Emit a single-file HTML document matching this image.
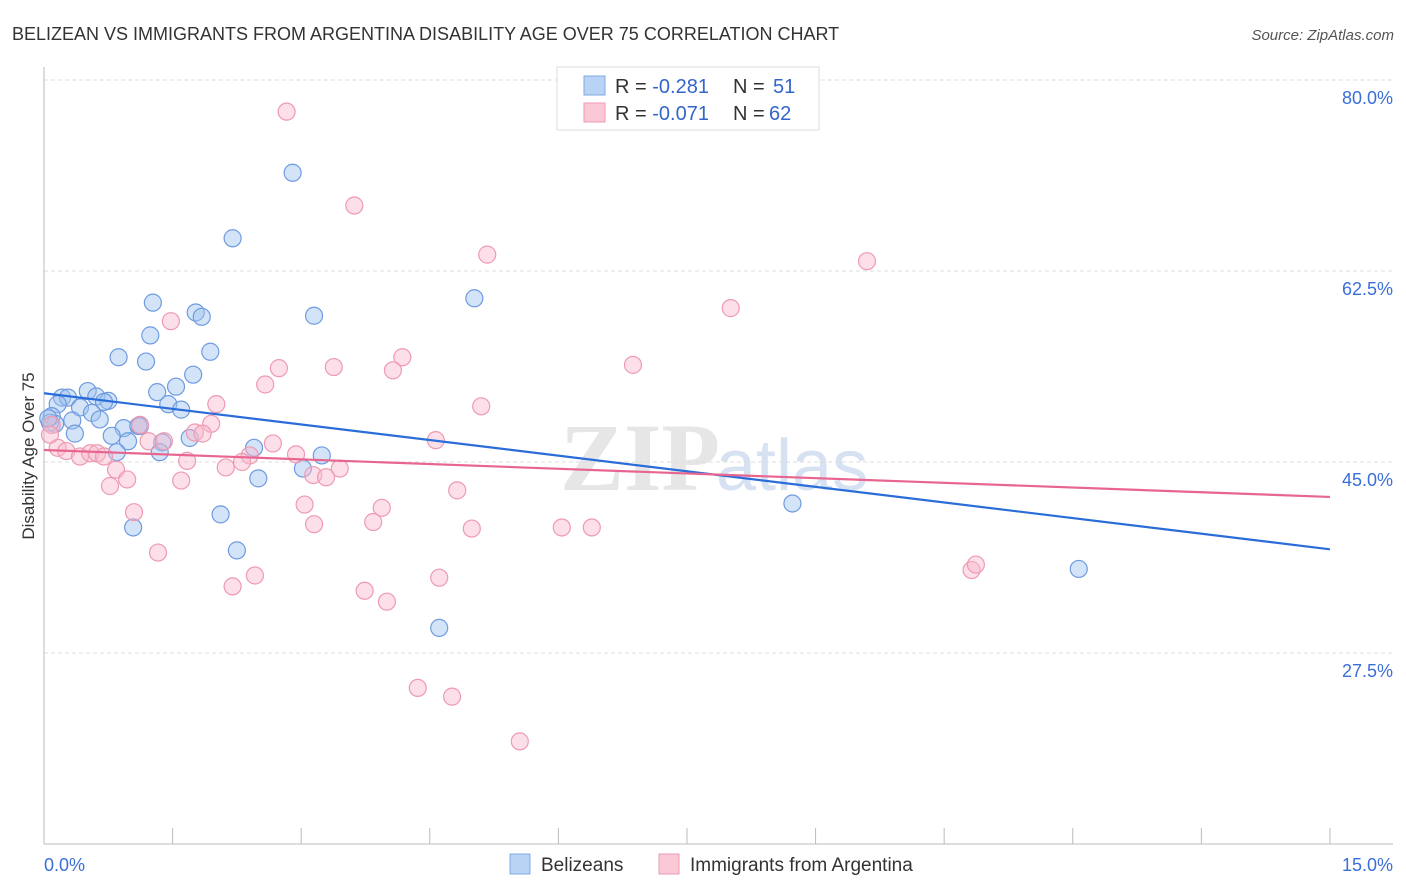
<!DOCTYPE html>
<html><head><meta charset="utf-8"><style>
body{margin:0;background:#fff;font-family:"Liberation Sans",sans-serif}
svg{display:block}
</style></head><body>
<svg width="1406" height="892" viewBox="0 0 1406 892" xmlns="http://www.w3.org/2000/svg">
<text x="12" y="40" font-size="18" fill="#333">BELIZEAN VS IMMIGRANTS FROM ARGENTINA DISABILITY AGE OVER 75 CORRELATION CHART</text>
<text x="1394" y="40" font-size="15" fill="#555" text-anchor="end" font-style="italic">Source: ZipAtlas.com</text>
<text x="720" y="490" font-size="96" fill="#e6e6e6" text-anchor="end" font-family="Liberation Serif" font-weight="bold">ZIP</text>
<text x="716" y="490" font-size="72" fill="#d6e2f2">atlas</text>
<g id="grid"></g>
<g id="axes"></g>
<g id="pts"></g>
<g id="trend"></g>
<text x="34" y="456" font-size="17" fill="#333" text-anchor="middle" transform="rotate(-90 34 456)">Disability Age Over 75</text>
<g>
<rect x="557" y="67" width="262" height="63" fill="#fff" stroke="#ddd"/>
<rect x="584" y="76" width="21" height="19" fill="#b9d3f5" stroke="#7fa8e3"/>
<rect x="584" y="103" width="21" height="19" fill="#fbc9d6" stroke="#ee9ab2"/>
<text x="615" y="93" font-size="20" fill="#333">R = <tspan fill="#3366cc">-0.281</tspan><tspan x="733">N = </tspan><tspan x="773" fill="#3366cc">51</tspan></text>
<text x="615" y="120" font-size="20" fill="#333">R = <tspan fill="#3366cc">-0.071</tspan><tspan x="733">N = </tspan><tspan x="769" fill="#3366cc">62</tspan></text>
</g>
<g>
<rect x="510" y="854" width="20" height="20" fill="#b9d3f5" stroke="#7fa8e3"/>
<text x="541" y="871" font-size="19" fill="#333">Belizeans</text>
<rect x="659" y="854" width="20" height="20" fill="#fbc9d6" stroke="#ee9ab2"/>
<text x="690" y="871" font-size="19" fill="#333">Immigrants from Argentina</text>
</g>
</svg>
<script>
const yTicks=[80,62.5,45,27.5];
const yTickLabels=["80.0%","62.5%","45.0%","27.5%"];
const xTickVals=[0,1.5,3,4.5,6,7.5,9,10.5,12,13.5,15];
const blueX=[2.90,2.20,1.27,1.77,1.84,5.02,3.15,1.24,1.94,0.87,1.19,1.74,1.54,1.32,0.51,0.21,0.28,0.61,0.75,0.70,0.16,0.42,1.45,0.56,1.60,0.65,0.33,0.09,0.13,0.93,1.10,0.79,0.36,0.98,1.70,1.38,2.45,3.24,1.35,0.85,3.02,2.50,2.06,1.04,2.25,4.61,8.73,12.07,0.07,0.05,1.12];
const blueY=[71.5,65.5,59.6,58.7,58.3,60.0,58.4,56.6,55.1,54.6,54.2,53.0,51.9,51.4,51.5,50.9,50.9,51.0,50.6,50.5,50.3,50.0,50.3,49.5,49.8,48.9,48.8,49.2,48.5,48.1,48.3,47.4,47.6,46.9,47.2,46.8,46.3,45.6,45.9,45.9,44.4,43.5,40.2,39.0,36.9,29.8,41.2,35.2,48.6,49.0,48.3];
const pinkX=[2.83,3.62,5.17,9.60,8.01,1.48,6.87,4.18,2.74,3.38,4.07,2.58,5.10,2.01,1.12,1.95,1.76,1.85,4.57,1.22,1.40,2.67,2.94,2.40,2.31,1.67,0.16,0.26,0.42,0.54,0.62,0.70,0.84,2.12,3.14,3.45,3.29,0.97,0.77,1.60,4.82,3.04,3.94,1.05,3.84,3.15,4.99,6.04,6.39,1.33,2.20,2.46,4.61,3.74,4.00,10.82,10.87,4.36,4.76,5.55,0.09,0.07];
const pinkY=[77.1,68.5,64.0,63.4,59.1,57.9,53.9,54.6,53.6,53.7,53.4,52.1,50.1,50.3,48.4,48.5,47.7,47.6,47.0,46.9,46.9,46.7,45.7,45.6,45.0,45.1,46.3,46.0,45.5,45.8,45.8,45.5,44.3,44.5,43.8,44.4,43.6,43.4,42.8,43.3,42.4,41.1,40.8,40.4,39.5,39.3,38.9,39.0,39.0,36.7,33.6,34.6,34.4,33.2,32.2,35.1,35.6,24.3,23.5,19.4,48.4,47.5];
const blueTrend=[51.3,37.0];
const pinkTrend=[46.1,41.8];
const NS="http://www.w3.org/2000/svg";
const X=v=>44+v*85.73, Y=v=>80+(80-v)*10.914;
function mk(t,a,p){const e=document.createElementNS(NS,t);for(const k in a)e.setAttribute(k,a[k]);p.appendChild(e);return e;}
const grid=document.getElementById('grid'),axes=document.getElementById('axes'),pts=document.getElementById('pts'),tr=document.getElementById('trend');
yTicks.forEach((v,i)=>{
 const l=mk('line',{x1:44,x2:1393,y1:Y(v),y2:Y(v),stroke:'#ddd','stroke-dasharray':'4 3'},grid);
 
 
 const t=mk('text',{x:1393,y:Y(v)+24,'font-size':18,fill:'#3a6fd8','text-anchor':'end'},grid);
 t.textContent=yTickLabels[i];
 
 
});
let a=mk('line',{x1:44,x2:44,y1:67,y2:844,stroke:'#bbb'},axes);


a=mk('line',{x1:44,x2:1393,y1:844,y2:844,stroke:'#bbb'},axes);


xTickVals.forEach(v=>{if(v>0){const t=mk('line',{x1:X(v),x2:X(v),y1:828,y2:844,stroke:'#bbb'},axes);
 
 }});
let tl=mk('text',{x:44,y:871,'font-size':18,fill:'#3a6fd8'},axes);tl.textContent=xTickVals[0].toFixed(1)+'%';


tl=mk('text',{x:1393,y:871,'font-size':18,fill:'#3a6fd8','text-anchor':'end'},axes);tl.textContent=xTickVals[xTickVals.length-1].toFixed(1)+'%';


blueX.forEach((x,i)=>{const c=mk('circle',{cx:X(x),cy:Y(blueY[i]),r:8.5,fill:'rgba(160,195,240,0.45)',stroke:'#6e9be0','stroke-width':1.2},pts);
 
 });
pinkX.forEach((x,i)=>{const c=mk('circle',{cx:X(x),cy:Y(pinkY[i]),r:8.5,fill:'rgba(248,185,205,0.45)',stroke:'#ee9ab2','stroke-width':1.2},pts);
 
 });
let l=mk('line',{x1:X(0),y1:Y(blueTrend[0]),x2:X(15),y2:Y(blueTrend[1]),stroke:'#2a6dd9','stroke-width':2.2},tr);


l=mk('line',{x1:X(0),y1:Y(pinkTrend[0]),x2:X(15),y2:Y(pinkTrend[1]),stroke:'#e8658f','stroke-width':2.2},tr);


</script>
</body></html>
